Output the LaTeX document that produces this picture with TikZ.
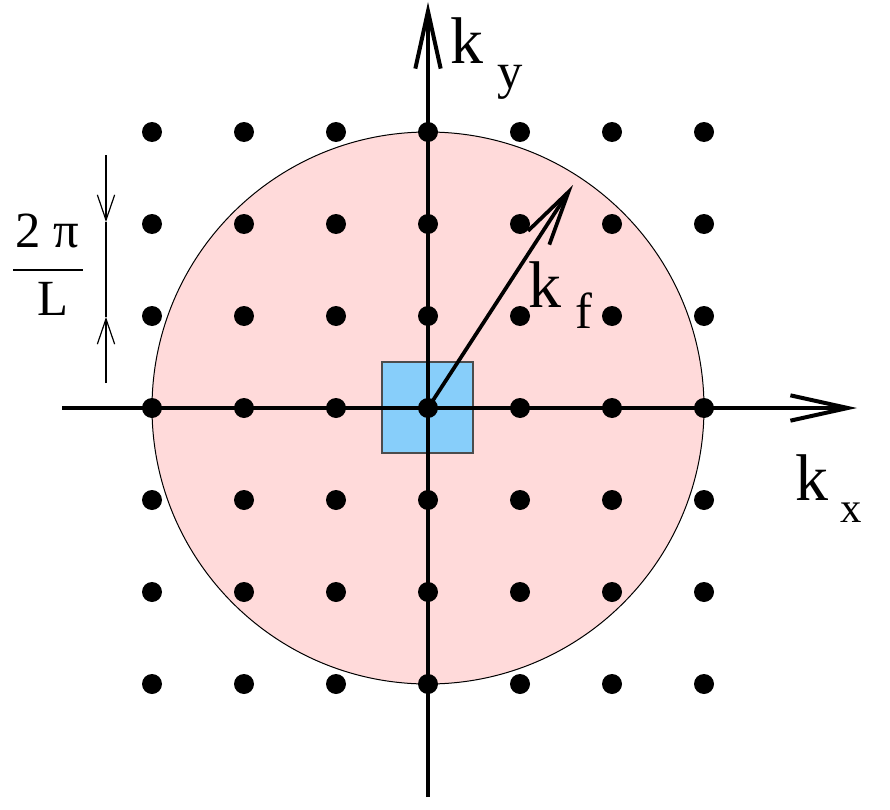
\documentclass[tikz,border=0pt]{standalone}
\usepackage{fontspec}
\setmainfont{Liberation Serif}
\usetikzlibrary{arrows.meta}
\definecolor{fermipink}{RGB}{255,218,218}
\definecolor{cellblue}{RGB}{135,206,250}
\begin{document}
\begin{tikzpicture}[x=0.75pt,y=-0.75pt,
  axis/.style={line width=3pt,-{Straight Barb[length=43pt,width=19pt,line width=3pt]}},
  kvec/.style={line width=2.8pt,-{Straight Barb[length=41pt,width=19pt,line width=2.8pt]}},
  dim/.style={line width=0.9pt},
  dimarrow/.style={line width=0.9pt,-{Straight Barb[length=19pt,width=13pt,line width=0.9pt]}},
  lattice/.style={circle,fill=black,inner sep=0pt,minimum size=15pt},
  lab/.style={inner sep=0pt,anchor=base west},
  big/.style={font=\fontsize{49.5}{55}\selectfont},
  sub/.style={font=\fontsize{38}{42}\selectfont},
  subx/.style={font=\fontsize{32}{36}\selectfont}]
\useasboundingbox (0,0) rectangle (890,810);
% Fermi circle
\draw[line width=0.75pt,fill=fermipink] (428,408) circle[radius=207pt];
% unit cell
\draw[line width=0.8pt,draw=black!70,fill=cellblue] (382,362) rectangle (473,453);
% axes
\coordinate (xs) at (62,408);
\coordinate (xe) at (857,408);
\coordinate (ys) at (428,797);
\coordinate (ye) at (428,2);
\draw[axis] (xs) -- (xe);
\draw[axis] (ys) -- (ye);
% lattice points
\foreach \i in {0,...,6}{
  \foreach \j in {0,...,6}{
    \node[lattice] (p\i\j) at ({152+92*\i},{132+92*\j}) {};
  }
}
% k_f vector
\coordinate (kf) at (573,185);
\draw[kvec] (p33.center) -- (kf);
% labels
\node[lab,big] (ky) at (450,63) {k};
\node[lab,sub] (kysub) at (497,88) {y};
\node[lab,big] (kx) at (795,500) {k};
\node[lab,subx] (kxsub) at (840,522) {x};
\node[lab,big] (kfl) at (528,307) {k};
\node[lab,sub] (kfsub) at (575,328) {f};
% 2pi/L dimension
\coordinate (d1) at (106,155);
\coordinate (d2) at (106,222);
\coordinate (d3) at (106,317);
\coordinate (d4) at (106,383);
\draw[dimarrow] (d1) -- (d2);
\draw[dim] (d2) -- (d3);
\draw[dimarrow] (d4) -- (d3);
\node[inner sep=0pt,anchor=base,font=\fontsize{38}{42}\selectfont] (num) at (47,247) {2 π};
\coordinate (b1) at (13,270);
\coordinate (b2) at (83,270);
\draw[line width=1.1pt] (b1) -- (b2);
\node[inner sep=0pt,anchor=base,font=\fontsize{38}{42}\selectfont] (den) at (53,315) {L};
\end{tikzpicture}
\end{document}
